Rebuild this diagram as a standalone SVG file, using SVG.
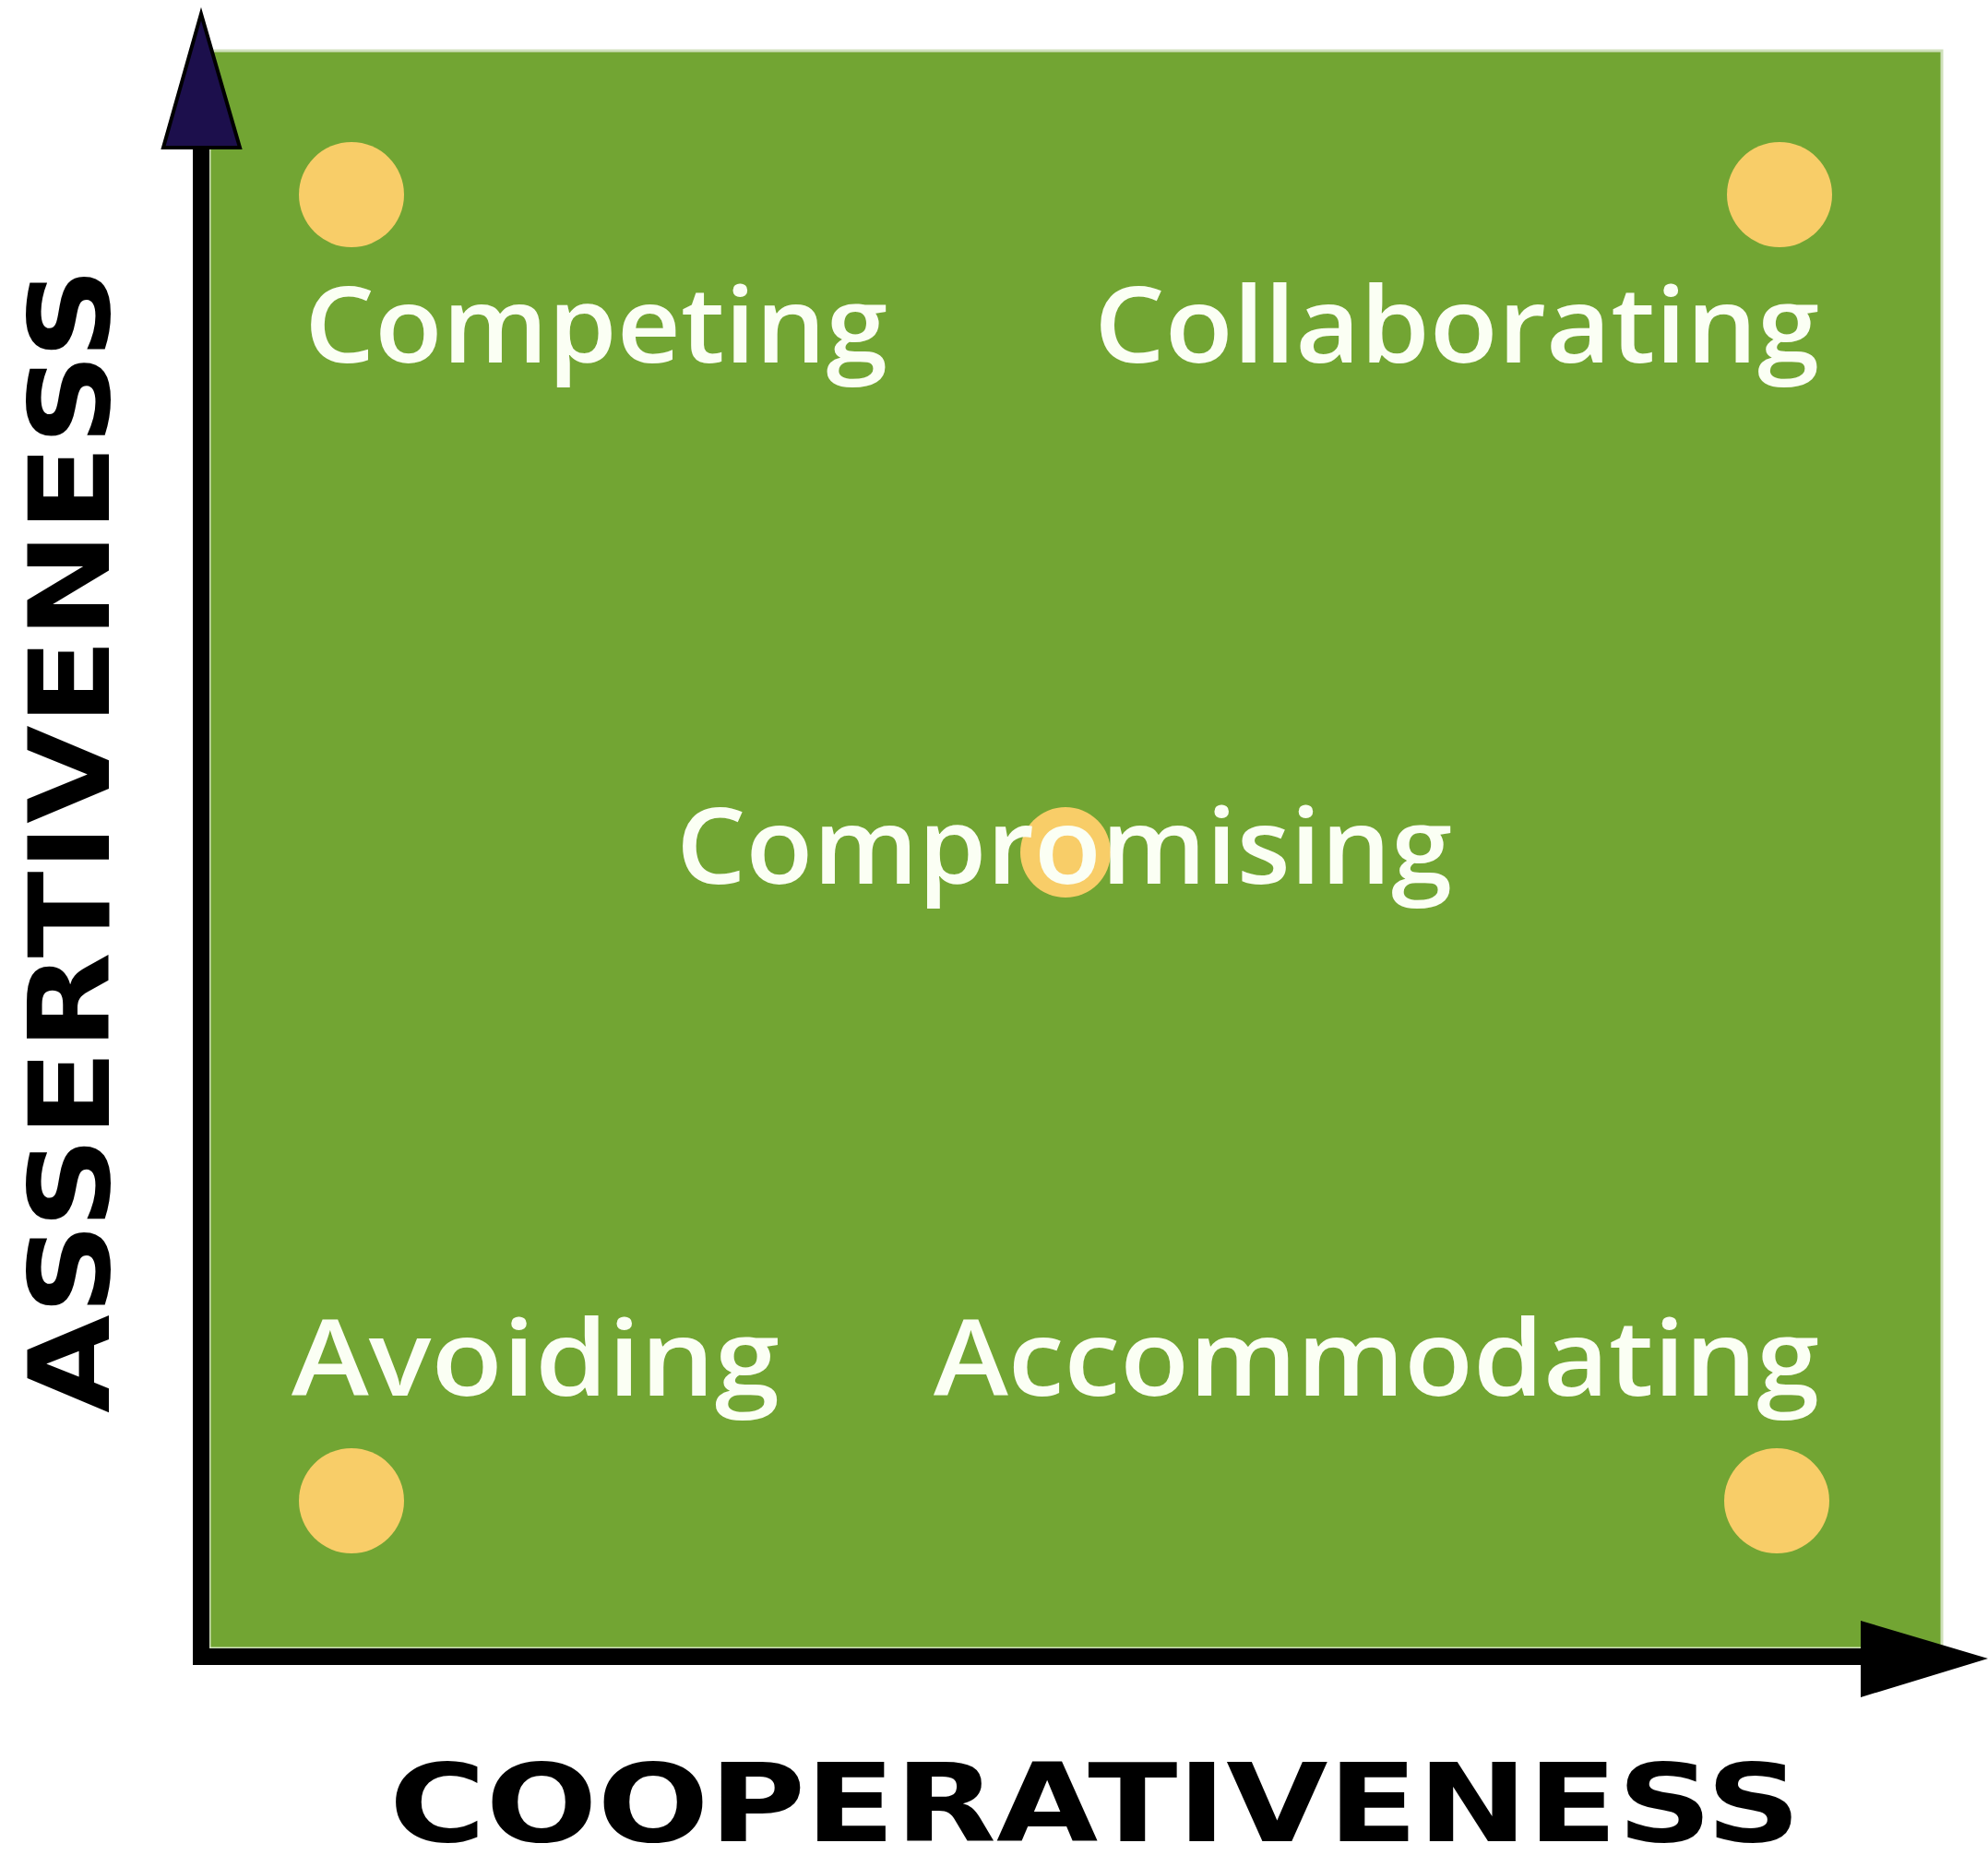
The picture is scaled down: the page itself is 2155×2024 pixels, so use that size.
<svg xmlns="http://www.w3.org/2000/svg" width="2155" height="2024" viewBox="0 0 2155 2024">
  <style>
    .dot { fill: #f8cd68; }
    .lbl { font-family: "Open Sans", "Liberation Sans", sans-serif; font-weight: 600; font-size: 114px; fill: #fbfff4; }
    .axis { font-family: "DejaVu Sans", "Liberation Sans", sans-serif; font-weight: bold; font-size: 122px; fill: #000000; }
    .axline { stroke: #000000; stroke-width: 18; fill: none; }
  </style>
  <rect x="0" y="0" width="2155" height="2024" fill="#ffffff"/>
  <g id="field">
    <rect x="227" y="55" width="1878" height="1732" fill="#72a533" stroke="#cfe0bb" stroke-width="3"/>
  </g>
  <g id="connectors">
    <line class="axline" x1="218" y1="150" x2="218" y2="1805"/>
    <line class="axline" x1="209" y1="1796" x2="2025" y2="1796"/>
    <polygon points="218,15 177,160 260,160" fill="#1c0f4c" stroke="#000000" stroke-width="4" stroke-linejoin="miter"/>
    <polygon points="2155,1798 2017,1757 2017,1840" fill="#000000"/>
  </g>
  <g id="node-competing">
    <circle class="dot" cx="381" cy="211" r="57"/>
    <text class="lbl" x="330" y="393" textLength="632" lengthAdjust="spacingAndGlyphs">Competing</text>
  </g>
  <g id="node-collaborating">
    <circle class="dot" cx="1929" cy="211" r="57"/>
    <text class="lbl" x="1186" y="393" textLength="786" lengthAdjust="spacingAndGlyphs">Collaborating</text>
  </g>
  <g id="node-compromising">
    <circle class="dot" cx="1155" cy="924" r="49"/>
    <text class="lbl" x="733" y="958" textLength="841" lengthAdjust="spacingAndGlyphs">Compromising</text>
  </g>
  <g id="node-avoiding">
    <circle class="dot" cx="381" cy="1627" r="57"/>
    <text class="lbl" x="316" y="1513" textLength="529" lengthAdjust="spacingAndGlyphs">Avoiding</text>
  </g>
  <g id="node-accommodating">
    <circle class="dot" cx="1926" cy="1627" r="57"/>
    <text class="lbl" x="1012" y="1513" textLength="960" lengthAdjust="spacingAndGlyphs">Accommodating</text>
  </g>
  <g id="axis-labels">
    <text class="axis" transform="translate(118,1532) rotate(-90)" x="0" y="0" textLength="1242" lengthAdjust="spacingAndGlyphs">ASSERTIVENESS</text>
    <text class="axis" x="422" y="1996" style="font-size:118px" textLength="1530" lengthAdjust="spacingAndGlyphs">COOPERATIVENESS</text>
  </g>
</svg>
